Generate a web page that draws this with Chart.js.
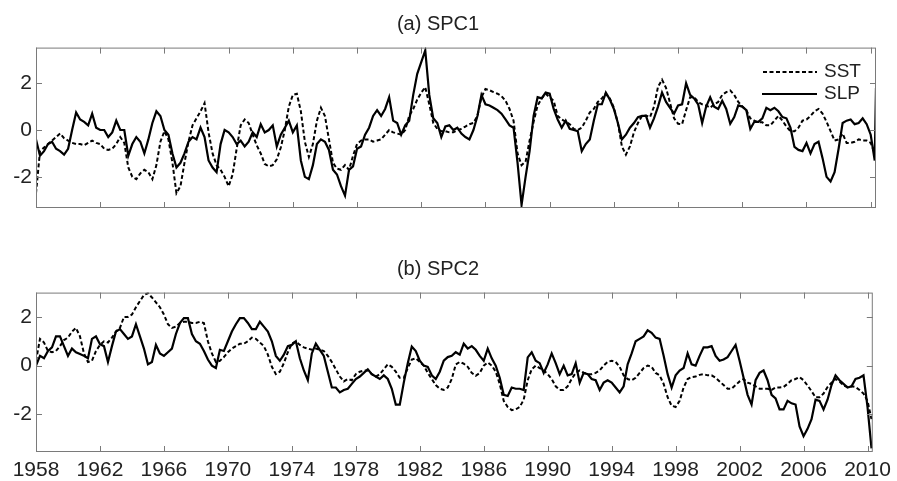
<!DOCTYPE html>
<html>
<head>
<meta charset="utf-8">
<script src="https://cdn.jsdelivr.net/npm/chart.js@4.4.1/dist/chart.umd.min.js"></script>
<style>
  body { margin: 0; background: #fff; }
  #wrap { position: relative; width: 897px; height: 481px; }
  .panel { position: absolute; left: 0; width: 897px; }
</style>
</head>
<body>
<div id="wrap">
  <div class="panel" style="top:0;height:240px"><canvas id="chartA"></canvas></div>
  <div class="panel" style="top:240px;height:241px"><canvas id="chartB"></canvas></div>
</div>
<script>
// quarterly values, first point 1958.0
const START_YEAR = 1958;
const STEP = 0.25;
const LAST_YEAR = 2010.33;

// (a) SPC1
const slpA = [
  -0.4, -1.1, -0.9, -0.6,    // 1958
  -0.5, -0.8, -0.9, -1.05,
  -0.8, 0.0, 0.75, 0.45,     // 1960
  0.35, 0.2, 0.7, 0.1,
  0.0, 0.0, -0.3, -0.1,
  0.4, 0.0, 0.0, -1.1,
  -0.6, -0.3, -0.5, -1.0,
  -0.4, 0.3, 0.8, 0.6,
  0.0, -0.2, -1.0, -1.6,
  -1.4, -1.0, -0.5, -0.3,
  -0.4, 0.1, -0.3, -1.3,
  -1.6, -1.8, -0.6, 0.0,
  -0.1, -0.3, -0.6, -0.45,   // 1970
  -0.7, -0.5, -0.1, -0.3,
  0.25, -0.1, 0.0, 0.2,
  -0.7, -0.2, 0.1, 0.4,
  -0.1, 0.2, -1.3, -2.0,
  -2.1, -1.5, -0.6, -0.4,
  -0.5, -0.85, -1.7, -1.9,
  -2.4, -2.8, -1.7, -1.55,
  -0.8, -0.7, -0.2, 0.1,
  0.6, 0.85, 0.6, 0.9,
  1.4, 0.4, 0.3, -0.2,       // 1980
  0.2, 0.4, 1.5, 2.4,
  2.9, 3.4, 1.5, 0.5,
  0.3, -0.3, 0.15, 0.2,
  0.0, 0.1, -0.15, -0.3,
  -0.4, 0.0, 0.6, 1.5,
  1.1, 1.05, 0.95, 0.85,
  0.7, 0.45, 0.2, 0.1,
  -1.4, -3.2, -2.0, -0.9,
  0.6, 1.4, 1.35, 1.6,
  1.55, 0.9, 0.45, 0.1,      // 1990
  0.4, 0.05, 0.0, -0.05,
  -0.9, -0.6, -0.4, 0.4,
  1.1, 1.1, 1.6, 1.3,
  0.9, 0.3, -0.4, -0.2,
  0.1, 0.3, 0.55, 0.6,
  0.6, 0.1, 0.5, 1.0,
  1.6, 1.2, 0.95, 0.7,
  1.05, 1.1, 2.0, 1.5,
  1.35, 1.1, 0.3, 1.0,
  1.4, 1.0, 0.9, 1.25,       // 2000
  0.9, 0.27, 0.55, 1.05,
  1.0, 0.85, 0.05, 0.35,
  0.35, 0.5, 0.95, 0.85,
  0.95, 0.8, 0.55, 0.5,
  0.1, -0.72, -0.85, -0.9,
  -0.55, -1.0, -0.6, -0.5,
  -1.2, -2.0, -2.2, -1.8,
  -0.8, 0.3, 0.4, 0.45,
  0.25, 0.3, 0.5, 0.25,
  -0.2, -1.3                 // 2010
];
const slpALast = 1.8;        // final sample, at LAST_YEAR
const sstA = [
  -2.7, -0.9, -0.75, -0.6,   // 1958
  -0.45, -0.3, -0.15, -0.35,
  -0.45, -0.55, -0.6, -0.6,  // 1960
  -0.65, -0.55, -0.45, -0.55,
  -0.6, -0.8, -0.85, -0.8,
  -0.6, -0.3, -0.55, -1.6,
  -2.0, -2.1, -1.85, -1.7,
  -1.8, -2.1, -1.5, -0.5,
  -0.05, -0.4, -1.4, -2.7,
  -2.4, -1.4, -0.5, 0.2,
  0.5, 0.8, 1.15, -0.1,
  -1.0, -1.5, -1.7, -2.0,
  -2.4, -1.9, -0.8, 0.2,     // 1970
  0.45, 0.3, -0.2, -0.65,
  -1.0, -1.45, -1.55, -1.5,
  -1.25, -0.75, 0.0, 1.0,
  1.5, 1.55, 0.8, -0.5,
  -1.15, -0.6, 0.4, 0.95,
  0.6, -0.4, -1.4, -1.65,
  -1.7, -1.5, -1.7, -1.1,
  -0.6, -0.45, -0.4, -0.4,
  -0.5, -0.45, -0.4, -0.2,
  0.0, -0.1, -0.15, -0.2,    // 1980
  0.0, 0.6, 0.9, 1.3,
  1.6, 1.83, 1.1, 0.3,
  0.05, -0.05, -0.05, -0.1,
  -0.1, 0.0, 0.05, 0.15,
  0.25, 0.3, 0.6, 1.4,
  1.75, 1.7, 1.62, 1.55,
  1.45, 1.25, 0.9, 0.4,
  -1.0, -1.5, -1.35, -0.45,
  0.35, 1.05, 1.35, 1.55,
  1.4, 1.25, 0.6, 0.45,      // 1990
  0.35, 0.25, 0.05, 0.0,
  0.1, 0.4, 0.75, 0.9,
  1.2, 1.35, 1.55, 1.35,
  0.95, 0.3, -0.7, -1.05,
  -0.7, -0.1, 0.3, 0.6,
  0.62, 0.55, 1.0, 1.85,
  2.15, 1.8, 1.15, 0.5,
  0.27, 0.25, 0.85, 1.4,
  1.4, 1.2, 1.1, 1.05,
  0.95, 1.1, 1.2, 1.5,       // 2000
  1.62, 1.69, 1.5, 1.2,
  1.0, 0.85, 0.5, 0.4,
  0.33, 0.33, 0.2, 0.2,
  0.4, 0.6, 0.4, 0.15,
  -0.05, -0.05, 0.1, 0.4,
  0.45, 0.6, 0.8, 0.9,
  0.7, 0.35, -0.05, -0.45,
  -0.4, -0.15, -0.55, -0.55,
  -0.5, -0.4, -0.45, -0.45,
  -0.55, -1.0                // 2010
];

// (b) SPC2
const slpB = [
  0.0, 0.4, 0.3, 0.6,        // 1958
  0.75, 1.2, 1.2, 0.8,
  0.4, 0.7, 0.55, 0.48,      // 1960
  0.4, 0.3, 1.1, 1.2,
  0.88, 0.8, 0.15, 0.8,
  1.4, 1.5, 1.3, 1.1,
  1.2, 1.7, 1.2, 0.7,
  0.05, 0.15, 0.85, 0.5,
  0.4, 0.55, 0.7, 1.3,
  1.75, 1.95, 1.95, 1.3,
  1.0, 0.9, 0.6, 0.25,
  0.0, -0.1, 0.65, 0.6,
  1.0, 1.4, 1.7, 1.95,       // 1970
  1.95, 1.75, 1.5, 1.5,
  1.8, 1.6, 1.4, 1.0,
  0.4, 0.2, 0.45, 0.8,
  0.85, 1.0, 0.3, -0.2,
  -0.6, 0.5, 0.9, 0.65,
  0.4, -0.25, -0.9, -0.9,
  -1.1, -1.0, -0.95, -0.75,
  -0.55, -0.45, -0.3, -0.15,
  -0.35, -0.45, -0.55, -0.4,
  -0.55, -0.95, -1.6, -1.6,  // 1980
  -0.7, 0.1, 0.78, 0.6,
  0.2, 0.0, -0.05, -0.4,
  -0.55, -0.25, 0.2, 0.35,
  0.4, 0.55, 0.45, 0.9,
  0.7, 0.8, 0.65, 0.4,
  0.2, 0.7, 0.3, 0.0,
  -0.5, -1.2, -1.25, -0.9,
  -0.95, -0.95, -1.0, 0.34,
  0.55, 0.2, 0.1, -0.3,
  0.05, 0.5, 0.1, -0.35,     // 1990
  0.0, -0.4, -0.35, 0.1,
  -0.7, -0.3, -0.35, -0.55,
  -0.6, -1.0, -0.7, -0.6,
  -0.7, -0.9, -1.1, -0.85,
  0.05, 0.5, 1.0, 1.1,
  1.2, 1.45, 1.35, 1.15,
  1.1, 0.4, -0.35, -0.9,
  -0.4, -0.2, -0.1, 0.5,
  0.05, 0.0, 0.4, 0.75,
  0.75, 0.8, 0.4, 0.2,       // 2000
  0.25, 0.35, 0.6, 0.85,
  0.2, -0.5, -1.2, -1.6,
  -0.6, -0.3, -0.2, -0.6,
  -1.2, -1.35, -1.8, -1.8,
  -1.45, -1.55, -1.6, -2.5,
  -2.9, -2.6, -2.2, -1.4,
  -1.45, -1.8, -1.4, -0.8,
  -0.4, -0.6, -0.75, -0.9,
  -0.85, -0.55, -0.5, -0.4,
  -1.7, -3.4                 // 2010
];
const sstB = [
  0.2, 1.1, 0.95, 0.6,       // 1958
  0.55, 0.6, 0.8, 1.05,
  1.15, 1.4, 1.55, 1.2,      // 1960
  0.5, 0.15, 0.2, 0.6,
  0.85, 1.0, 0.95, 1.15,
  1.4, 1.55, 2.0, 2.0,
  2.1, 2.4, 2.65, 2.9,
  2.98, 2.8, 2.6, 2.4,
  2.1, 1.7, 1.55, 1.6,
  1.75, 1.8, 1.8, 1.75,
  1.75, 1.8, 1.75, 1.0,
  0.5, 0.15, 0.2, 0.35,
  0.55, 0.7, 0.8, 0.9,       // 1970
  0.9, 1.0, 1.15, 1.1,
  0.95, 0.8, 0.45, -0.05,
  -0.35, -0.25, 0.1, 0.55,
  0.9, 1.0, 0.85, 0.75,
  0.7, 0.65, 0.7, 0.65,
  0.6, 0.4, 0.15, -0.15,
  -0.45, -0.65, -0.55, -0.6,
  -0.35, -0.25, -0.2, -0.2,
  -0.35, -0.45, -0.35, -0.15,
  0.05, -0.05, -0.25, -0.5,  // 1980
  -0.5, -0.1, 0.25, 0.3,
  0.15, 0.0, -0.3, -0.55,
  -0.8, -0.95, -1.0, -0.9,
  -0.55, 0.05, 0.15, 0.08,
  -0.05, -0.3, -0.42, -0.3,
  0.0, 0.13, 0.0, -0.25,
  -0.75, -1.45, -1.7, -1.83,
  -1.8, -1.7, -1.4, -0.6,
  -0.15, 0.0, -0.1, -0.2,
  -0.35, -0.55, -0.85, -1.0, // 1990
  -1.0, -0.85, -0.55, -0.3,
  -0.2, -0.3, -0.35, -0.35,
  -0.3, -0.2, 0.0, 0.15,
  0.2, 0.15, -0.05, -0.4,
  -0.55, -0.6, -0.5, -0.3,
  -0.1, 0.0, -0.05, -0.3,
  -0.4, -0.75, -1.3, -1.65,
  -1.7, -1.45, -0.9, -0.55,
  -0.47, -0.45, -0.38, -0.35,
  -0.4, -0.4, -0.5, -0.65,   // 2000
  -0.8, -0.95, -0.95, -0.8,
  -0.65, -0.55, -0.7, -0.75,
  -0.85, -0.95, -0.95, -0.95,
  -1.0, -0.9, -0.9, -0.88,
  -0.75, -0.6, -0.55, -0.47,
  -0.6, -0.82, -1.05, -1.3,
  -1.3, -1.15, -0.88, -0.7,
  -0.55, -0.65, -0.82, -0.88,
  -0.85, -0.88, -1.0, -1.15,
  -1.45, -2.2                // 2010
];

const yearTicks = [1958, 1962, 1966, 1970, 1974, 1978, 1982, 1986, 1990, 1994, 1998, 2002, 2006, 2010];
const valueTicks = [-2, 0, 2];

const X_MIN = 1958, X_MAX = LAST_YEAR;
const AXIS_COLOR = '#7a7a7a';
const TEXT_COLOR = '#222';
const FONT = 'Arial, "Liberation Sans", Helvetica, sans-serif';

const toXY = arr => arr.map((v, i) => ({ x: START_YEAR + i * STEP, y: v }));

// matlab style box with inward ticks on all four sides
const boxPlugin = {
  id: 'box',
  afterDatasetsDraw(chart) {
    const { ctx, chartArea: a, scales: { x, y } } = chart;
    const t = 6;
    ctx.save();
    ctx.strokeStyle = AXIS_COLOR;
    ctx.lineWidth = 1;
    ctx.setLineDash([]);
    ctx.strokeRect(a.left + 0.5, a.top + 0.5, a.right - a.left - 1, a.bottom - a.top - 1);
    ctx.beginPath();
    yearTicks.forEach(v => {
      const px = Math.round(x.getPixelForValue(v)) + 0.5;
      ctx.moveTo(px, a.bottom); ctx.lineTo(px, a.bottom - t);
      ctx.moveTo(px, a.top); ctx.lineTo(px, a.top + t);
    });
    valueTicks.forEach(v => {
      const py = Math.round(y.getPixelForValue(v)) + 0.5;
      ctx.moveTo(a.left, py); ctx.lineTo(a.left + t, py);
      ctx.moveTo(a.right, py); ctx.lineTo(a.right - t, py);
    });
    ctx.stroke();
    ctx.restore();
  }
};

const legendPlugin = {
  id: 'lineLegend',
  afterDraw(chart) {
    if (!chart.options.plugins.lineLegend) return;
    const ctx = chart.ctx;
    ctx.save();
    ctx.strokeStyle = '#000';
    ctx.lineWidth = 2;
    ctx.setLineDash([4, 2.5]);
    ctx.beginPath(); ctx.moveTo(763, 72); ctx.lineTo(817, 72); ctx.stroke();
    ctx.setLineDash([]);
    ctx.beginPath(); ctx.moveTo(762, 94); ctx.lineTo(817, 94); ctx.stroke();
    ctx.fillStyle = TEXT_COLOR;
    ctx.font = '19px ' + FONT;
    ctx.textBaseline = 'middle';
    ctx.fillText('SST', 824, 72);
    ctx.fillText('SLP', 824, 94);
    ctx.restore();
  }
};

function makeChart(id, title, sstPts, slpPts, yMin, yMax, showLabels, titlePad, xHeight) {
  return new Chart(document.getElementById(id), {
    type: 'line',
    data: {
      datasets: [
        {
          label: 'SST',
          data: sstPts,
          borderColor: '#000',
          borderWidth: 2,
          borderDash: [4, 2.5],
          pointRadius: 0,
          tension: 0,
          fill: false
        },
        {
          label: 'SLP',
          data: slpPts,
          borderColor: '#000',
          borderWidth: 2.2,
          pointRadius: 0,
          tension: 0,
          fill: false
        }
      ]
    },
    options: {
      responsive: true,
      maintainAspectRatio: false,
      animation: false,
      layout: { padding: { left: 0, right: 21, top: 0, bottom: 0 } },
      plugins: {
        legend: { display: false },
        tooltip: { enabled: false },
        lineLegend: !showLabels,
        title: {
          display: true,
          text: title,
          color: TEXT_COLOR,
          font: { family: FONT, size: 20, weight: 'normal', lineHeight: 1.2 },
          padding: titlePad
        }
      },
      scales: {
        x: {
          type: 'linear',
          min: X_MIN,
          max: X_MAX,
          grid: { display: false, drawTicks: false },
          border: { display: false },
          afterBuildTicks: s => { s.ticks = yearTicks.map(v => ({ value: v })); },
          afterFit: s => { s.height = xHeight; },
          ticks: {
            display: showLabels,
            padding: 6,
            maxRotation: 0,
            autoSkip: false,
            color: TEXT_COLOR,
            font: { family: FONT, size: 21 },
            callback: v => String(v)
          }
        },
        y: {
          min: yMin,
          max: yMax,
          grid: { display: false, drawTicks: false },
          border: { display: false },
          afterBuildTicks: s => { s.ticks = valueTicks.map(v => ({ value: v })); },
          afterFit: s => { s.width = 36; },
          ticks: {
            padding: 4,
            color: TEXT_COLOR,
            font: { family: FONT, size: 21 },
            callback: v => String(v)
          }
        }
      }
    },
    plugins: [boxPlugin, legendPlugin]
  });
}

const slpAPts = toXY(slpA).concat([{ x: LAST_YEAR, y: slpALast }]);

makeChart('chartA', '(a) SPC1', toXY(sstA), slpAPts, -3.33, 3.52, false, { top: 12, bottom: 11.6 }, 32);
makeChart('chartB', '(b) SPC2', toXY(sstB), toXY(slpB), -3.55, 3.0, true, { top: 17, bottom: 11.6 }, 29);
</script>
</body>
</html>
